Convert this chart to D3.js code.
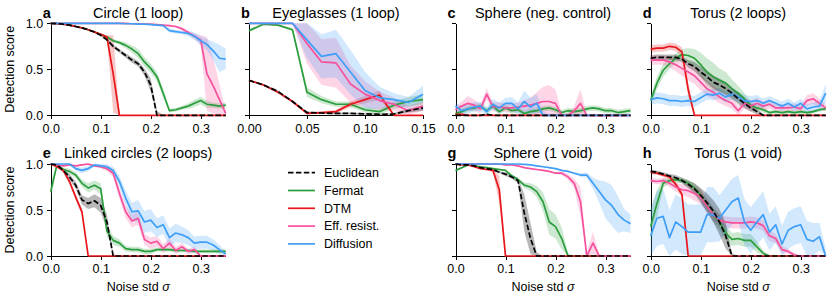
<!DOCTYPE html>
<meta charset="utf-8">
<style>
body { margin: 0; background: #fff; }
text { font-family: "Liberation Sans", Arial, sans-serif; fill: #000; }
.tick text { font-size: 12.5px; }
.title { font-size: 14.5px; text-anchor: middle; }
.letter { font-size: 14.5px; font-weight: bold; }
.axlabel { font-size: 12.5px; text-anchor: middle; }
.axis path, .axis line { stroke: #000; shape-rendering: crispEdges; }
.line { fill: none; stroke-width: 1.7px; stroke-linejoin: round; }
.band { stroke: none; }
.legend text { font-size: 12.5px; }
</style>
<svg width="830" height="302"></svg>
<script src="https://d3js.org/d3.v7.min.js"></script>
<script>

// noise levels sampled in the experiments
var sigmaWide = [0, 0.0125, 0.025, 0.0375, 0.05, 0.0625, 0.075, 0.0875, 0.1, 0.1125, 0.125, 0.1375, 0.15, 0.1625,
  0.175, 0.1875, 0.2, 0.2125, 0.225, 0.2375, 0.25, 0.2625, 0.275, 0.2875, 0.3, 0.3125, 0.325, 0.3375, 0.35];
var sigmaNarrow = [0, 0.0125, 0.025, 0.0375, 0.05, 0.0625, 0.075, 0.0875, 0.1, 0.1125, 0.125, 0.1375, 0.15];

var ticksWide = [0, 0.1, 0.2, 0.3];
var ticksNarrow = [0, 0.05, 0.1, 0.15];
var yTicks = [0, 0.5, 1];

var methodNames = ["Euclidean", "Fermat", "DTM", "Eff. resist.", "Diffusion"];

// a: Circle (1 loop)
var aEuclid = [1,0.997,0.99,0.98,0.965,0.95,0.93,0.905,0.87,0.82,0.75,0.70,0.65,0.60,0.56,0.47,0.33,0,0,0,0,0,0,0,0,0,0,0,0];
var aFermat = [1,0.997,0.99,0.98,0.965,0.95,0.93,0.905,0.88,0.85,0.81,0.79,0.76,0.72,0.67,0.58,0.51,0.42,0.24,0.05,0.06,0.08,0.10,0.13,0.16,0.12,0.11,0.10,0.11];
var aDtm = [1,0.997,0.99,0.98,0.965,0.95,0.93,0.905,0.88,0.85,0.45,0,0,0,0,0,0,0,0,0,0,0,0,0,0,0,0,0,0];
var aEff = [1,1,1,1,1,1,1,1,1,1,1,1,1,0.995,0.995,0.99,0.99,0.985,0.98,0.975,0.965,0.94,0.90,0.86,0.82,0.45,0.32,0.17,0.02];
var aDiff = [1,1,1,1,1,1,1,1,1,1,1,1,0.995,0.995,0.99,0.99,0.985,0.98,0.975,0.92,0.91,0.90,0.89,0.86,0.81,0.77,0.70,0.62,0.61];
var aEuclidSd = [0,0,0,0,0,0.005,0.005,0.01,0.01,0.015,0.02,0.02,0.025,0.03,0.03,0.04,0.07,0.05,0,0,0,0,0,0,0,0,0,0,0];
var aFermatSd = [0,0,0,0,0,0.005,0.005,0.01,0.01,0.015,0.02,0.02,0.03,0.04,0.05,0.05,0.05,0.05,0.05,0.02,0.02,0.02,0.03,0.04,0.04,0.04,0.03,0.03,0.03];
var aDtmSd = [0,0,0,0,0,0.005,0.005,0.01,0.01,0.02,0.42,0,0,0,0,0,0,0,0,0,0,0,0,0,0,0,0,0,0];
var aEffSd = [0,0,0,0,0,0,0,0,0,0,0,0,0,0,0,0,0,0,0,0.005,0.01,0.02,0.02,0.03,0.05,0.4,0.3,0.17,0.02];
var aDiffSd = [0,0,0,0,0,0,0,0,0,0,0,0,0,0,0,0,0,0,0.01,0.02,0.02,0.02,0.03,0.04,0.05,0.06,0.1,0.15,0.11];

// b: Eyeglasses (1 loop)
var bEuclid = [0.38,0.33,0.26,0.15,0.03,0.025,0.02,0.02,0.015,0.01,0.015,0.05,0.08];
var bFermat = [0.92,0.99,0.98,0.93,0.25,0.17,0.12,0.12,0.06,0.04,0.11,0.15,0.17];
var bDtm = [0.38,0.33,0.25,0.15,0.02,0.03,0.04,0.12,0.17,0.22,0,0,0];
var bEff = [1,1,1,1,0.78,0.58,0.57,0.34,0.23,0.16,0.12,0.05,0.10];
var bDiff = [1,1,1,1,0.82,0.64,0.67,0.47,0.27,0.19,0.17,0.14,0.23];
var bEuclidSd = [0.01,0.01,0.01,0.01,0.01,0.01,0.01,0.01,0.01,0.01,0.01,0.02,0.03];
var bFermatSd = [0.02,0.01,0.01,0.02,0.05,0.04,0.03,0.03,0.03,0.03,0.04,0.05,0.06];
var bDtmSd = [0.01,0.01,0.01,0.01,0.01,0.01,0.02,0.03,0.04,0.05,0,0,0];
var bEffSd = [0,0,0,0,0.22,0.25,0.27,0.2,0.14,0.1,0.07,0.05,0.05];
var bDiffSd = [0,0,0,0,0.2,0.24,0.26,0.24,0.2,0.12,0.07,0.06,0.09];

// c: Sphere (neg. control)
var cEuclid = [0,0,0,0,0,0.01,0,0,0,0,0,0,0,0,0,0,0,0,0,0,0,0,0,0,0,0,0,0,0];
var cFermat = [0.02,0.04,0.07,0.08,0.10,0.05,0.10,0.04,0.08,0.05,0.06,0.02,0.04,0.05,0.07,0.08,0.06,0.03,0.05,0.04,0.05,0.07,0.08,0.07,0.05,0.05,0.03,0.04,0.05];
var cDtm = [0.01,0.01,0,0,0,0,0,0,0,0,0,0,0,0,0,0,0,0,0,0,0,0,0,0,0,0,0,0,0];
var cEff = [0.06,0.10,0.13,0.11,0.07,0.23,0.09,0.09,0.08,0.08,0.09,0.10,0.11,0.13,0.15,0.15,0.13,0,0,0.05,0.13,0,0,0,0,0,0,0,0];
var cDiff = [0.10,0.05,0.07,0.09,0.10,0.04,0.12,0.08,0.13,0.13,0.07,0.15,0.09,0.13,0,0,0,0,0,0,0,0,0,0,0,0,0,0,0];
var cEuclidSd = [0,0,0,0,0,0.01,0,0,0,0,0,0,0,0,0,0,0,0,0,0,0,0,0,0,0,0,0,0,0];
var cFermatSd = [0.02,0.03,0.03,0.03,0.03,0.03,0.03,0.03,0.03,0.03,0.03,0.03,0.03,0.03,0.03,0.03,0.03,0.03,0.03,0.03,0.03,0.03,0.03,0.03,0.03,0.03,0.03,0.03,0.03];
var cDtmSd = [0.01,0.01,0,0,0,0,0,0,0,0,0,0,0,0,0,0,0,0,0,0,0,0,0,0,0,0,0,0,0];
var cEffSd = [0.03,0.05,0.08,0.06,0.05,0.06,0.05,0.05,0.05,0.05,0.05,0.06,0.08,0.12,0.16,0.18,0.15,0.02,0.02,0.05,0.15,0.02,0,0,0,0,0,0,0];
var cDiffSd = [0.04,0.05,0.05,0.05,0.05,0.05,0.06,0.06,0.06,0.07,0.07,0.12,0.1,0.1,0.05,0,0,0,0,0,0,0,0,0,0,0,0,0,0];

// d: Torus (2 loops)
var dEuclid = [0.62,0.63,0.63,0.63,0.63,0.61,0.56,0.53,0.47,0.42,0.36,0.33,0.29,0.24,0.18,0.13,0.08,0.04,0,0,0,0,0,0,0,0,0,0,0];
var dFermat = [0.16,0.35,0.49,0.56,0.62,0.66,0.65,0.62,0.55,0.47,0.42,0.38,0.35,0.29,0.24,0.18,0.11,0.08,0.06,0.03,0.04,0.03,0.04,0.03,0.04,0.03,0.04,0.06,0.07];
var dDtm = [0.72,0.73,0.73,0.75,0.74,0.69,0.28,0,0,0,0,0,0,0,0,0,0,0,0,0,0,0,0,0,0,0,0,0,0];
var dEff = [0.60,0.60,0.60,0.58,0.55,0.51,0.47,0.43,0.36,0.29,0.25,0.20,0.16,0.13,0.05,0.13,0.10,0.13,0.10,0.12,0.08,0.08,0.08,0.09,0.07,0.16,0.18,0.13,0.08];
var dDiff = [0.17,0.19,0.18,0.16,0.16,0.15,0.16,0.15,0.19,0.23,0.22,0.24,0.20,0.23,0.20,0.16,0.15,0.16,0.13,0.16,0.13,0.10,0.13,0.09,0.13,0.07,0.09,0.10,0.24];
var dEuclidSd = [0.03,0.03,0.03,0.03,0.03,0.03,0.04,0.05,0.06,0.07,0.07,0.07,0.07,0.06,0.06,0.05,0.04,0.03,0.01,0,0,0,0,0,0,0,0,0,0];
var dFermatSd = [0.05,0.07,0.07,0.06,0.05,0.06,0.08,0.1,0.13,0.15,0.15,0.13,0.12,0.1,0.08,0.06,0.04,0.03,0.03,0.02,0.02,0.02,0.02,0.02,0.02,0.02,0.02,0.02,0.02];
var dDtmSd = [0.04,0.04,0.04,0.04,0.04,0.05,0.08,0,0,0,0,0,0,0,0,0,0,0,0,0,0,0,0,0,0,0,0,0,0];
var dEffSd = [0.05,0.05,0.05,0.06,0.07,0.08,0.09,0.09,0.09,0.08,0.07,0.07,0.06,0.06,0.05,0.06,0.06,0.06,0.05,0.05,0.04,0.04,0.04,0.04,0.04,0.06,0.06,0.05,0.04];
var dDiffSd = [0.06,0.06,0.06,0.06,0.06,0.06,0.06,0.06,0.06,0.06,0.06,0.06,0.06,0.06,0.06,0.06,0.06,0.06,0.05,0.05,0.05,0.05,0.05,0.05,0.05,0.05,0.05,0.06,0.1];

// e: Linked circles (2 loops)
var eEuclid = [1,0.99,0.93,0.86,0.77,0.61,0.57,0.60,0.55,0.37,0,0,0,0,0,0,0,0,0,0,0,0,0,0,0,0,0,0,0];
var eFermat = [0.70,0.99,0.94,0.92,0.88,0.79,0.74,0.77,0.73,0.27,0.17,0.14,0.08,0.07,0.07,0.05,0.05,0.07,0.07,0.07,0.06,0.06,0.06,0.05,0.05,0.05,0.05,0.05,0.05];
var eDtm = [1,0.97,0.93,0.81,0.64,0.48,0,0,0,0,0,0,0,0,0,0,0,0,0,0,0,0,0,0,0,0,0,0,0];
var eEff = [1,0.99,0.98,0.99,0.98,0.99,1,0.98,0.97,0.95,0.90,0.68,0.48,0.38,0.41,0.18,0.14,0.16,0.08,0.14,0.06,0.10,0.05,0.07,0,0,0,0,0];
var eDiff = [1,1,1,1,0.95,0.93,0.95,0.99,0.98,0.97,0.93,0.81,0.63,0.48,0.49,0.37,0.39,0.31,0.34,0.20,0.25,0.23,0.20,0.14,0.15,0.15,0.12,0.07,0.02];
var eEuclidSd = [0,0.01,0.02,0.03,0.04,0.05,0.06,0.07,0.08,0.08,0.02,0,0,0,0,0,0,0,0,0,0,0,0,0,0,0,0,0,0];
var eFermatSd = [0.1,0.01,0.02,0.03,0.03,0.04,0.05,0.05,0.06,0.06,0.05,0.04,0.03,0.03,0.03,0.03,0.03,0.02,0.02,0.02,0.02,0.02,0.02,0.02,0.02,0.02,0.02,0.02,0.02];
var eDtmSd = [0,0.01,0.02,0.03,0.03,0.04,0,0,0,0,0,0,0,0,0,0,0,0,0,0,0,0,0,0,0,0,0,0,0];
var eEffSd = [0,0,0.01,0.01,0.01,0.01,0.01,0.01,0.02,0.03,0.04,0.06,0.07,0.07,0.07,0.06,0.06,0.06,0.05,0.05,0.04,0.04,0.03,0.03,0.01,0,0,0,0];
var eDiffSd = [0,0,0,0,0.03,0.03,0.03,0.02,0.02,0.03,0.04,0.06,0.08,0.1,0.12,0.12,0.12,0.1,0.1,0.1,0.1,0.09,0.08,0.07,0.07,0.07,0.06,0.05,0.03];

// g: Sphere (1 void)
var gEuclid = [1,0.99,0.99,0.98,0.96,0.95,0.94,0.91,0.89,0.86,0.82,0.47,0.19,0,0,0,0,0,0,0,0,0,0,0,0,0,0,0,0];
var gFermat = [0.93,0.96,0.99,0.98,0.97,0.96,0.95,0.94,0.93,0.87,0.83,0.77,0.75,0.70,0.59,0.37,0.32,0.19,0,0,0,0,0,0,0,0,0,0,0];
var gDtm = [1,0.99,0.99,0.97,0.95,0.94,0.93,0.72,0,0,0,0,0,0,0,0,0,0,0,0,0,0,0,0,0,0,0,0,0];
var gEff = [1,1,1,1,1,1,1,1,0.99,0.99,0.98,0.96,0.95,0.94,0.93,0.92,0.90,0.90,0.86,0.79,0.59,0,0.14,0,0,0,0,0,0];
var gDiff = [1,1,1,1,1,1,1,1,1,1,1,0.995,0.99,0.98,0.97,0.96,0.95,0.93,0.92,0.90,0.88,0.88,0.79,0.70,0.61,0.55,0.45,0.39,0.35];
var gEuclidSd = [0,0,0,0,0,0,0.01,0.01,0.02,0.02,0.03,0.2,0.17,0.04,0,0,0,0,0,0,0,0,0,0,0,0,0,0,0];
var gFermatSd = [0.02,0.01,0,0,0,0,0.01,0.01,0.01,0.02,0.02,0.03,0.04,0.06,0.1,0.14,0.13,0.12,0.03,0,0,0,0,0,0,0,0,0,0];
var gDtmSd = [0,0,0,0,0.01,0.01,0.02,0.15,0,0,0,0,0,0,0,0,0,0,0,0,0,0,0,0,0,0,0,0,0];
var gEffSd = [0,0,0,0,0,0,0,0,0,0,0,0,0,0,0,0,0.01,0.02,0.03,0.05,0.16,0.04,0.12,0.02,0,0,0,0,0];
var gDiffSd = [0,0,0,0,0,0,0,0,0,0,0,0,0,0,0,0,0,0,0,0.01,0.02,0.03,0.06,0.12,0.2,0.22,0.2,0.12,0.1];

// h: Torus (1 void)
var hEuclid = [0.92,0.91,0.89,0.87,0.85,0.82,0.78,0.73,0.66,0.58,0.49,0.37,0.22,0,0,0,0,0,0,0,0,0,0,0,0,0,0,0,0];
var hFermat = [0.32,0.57,0.79,0.82,0.83,0.82,0.79,0.74,0.66,0.55,0.45,0.37,0.25,0.18,0.19,0.17,0.17,0.10,0.03,0,0,0,0,0,0,0,0,0,0];
var hDtm = [0.91,0.90,0.88,0.86,0.78,0.67,0,0,0,0,0,0,0,0,0,0,0,0,0,0,0,0,0,0,0,0,0,0,0];
var hEff = [0.82,0.81,0.82,0.79,0.75,0.72,0.71,0.68,0.64,0.54,0.45,0.39,0.37,0.36,0.36,0.36,0.37,0.36,0.33,0.22,0.19,0.07,0.05,0.01,0,0,0,0,0];
var hDiff = [0.22,0.41,0.43,0.20,0.37,0.32,0.26,0.26,0.26,0.45,0.45,0.41,0.50,0.59,0.63,0.37,0.28,0.37,0.45,0.26,0.34,0.13,0.28,0.32,0.34,0.18,0.16,0.21,0];
var hEuclidSd = [0.02,0.02,0.02,0.02,0.03,0.03,0.04,0.06,0.08,0.1,0.12,0.14,0.14,0.03,0,0,0,0,0,0,0,0,0,0,0,0,0,0,0];
var hFermatSd = [0.18,0.15,0.05,0.03,0.03,0.03,0.04,0.05,0.06,0.07,0.08,0.08,0.08,0.07,0.07,0.07,0.07,0.06,0.03,0,0,0,0,0,0,0,0,0,0];
var hDtmSd = [0.02,0.02,0.02,0.02,0.03,0.04,0,0,0,0,0,0,0,0,0,0,0,0,0,0,0,0,0,0,0,0,0,0,0];
var hEffSd = [0.03,0.03,0.03,0.04,0.05,0.06,0.07,0.08,0.08,0.08,0.07,0.06,0.06,0.06,0.06,0.06,0.06,0.06,0.06,0.06,0.05,0.04,0.03,0.02,0,0,0,0,0];
var hDiffSd = [0.3,0.3,0.3,0.3,0.3,0.3,0.3,0.3,0.3,0.3,0.3,0.25,0.25,0.25,0.25,0.25,0.25,0.25,0.25,0.2,0.2,0.2,0.2,0.2,0.2,0.2,0.2,0.15,0.08];

// styling per method (order: Euclidean, Fermat, DTM, Eff. resist., Diffusion)
var methodColors = ["#000000", "#2a9d3c", "#e8161b", "#f7509c", "#3f9ef7"];
var methodDash = ["5.5,2.4", null, null, null, null];
var bandOpacity = [0.28, 0.24, 0.24, 0.24, 0.24];
var drawOrder = [1, 2, 3, 4, 0];

var panels = [
  {letter: "a", title: "Circle (1 loop)", col: 0, row: 0, sigma: sigmaWide, xmax: 0.35, ticks: ticksWide, fmt: ".1f",
   vals: [aEuclid, aFermat, aDtm, aEff, aDiff], sds: [aEuclidSd, aFermatSd, aDtmSd, aEffSd, aDiffSd]},
  {letter: "b", title: "Eyeglasses (1 loop)", col: 1, row: 0, sigma: sigmaNarrow, xmax: 0.15, ticks: ticksNarrow, fmt: ".2f",
   vals: [bEuclid, bFermat, bDtm, bEff, bDiff], sds: [bEuclidSd, bFermatSd, bDtmSd, bEffSd, bDiffSd]},
  {letter: "c", title: "Sphere (neg. control)", col: 2, row: 0, sigma: sigmaWide, xmax: 0.35, ticks: ticksWide, fmt: ".1f",
   vals: [cEuclid, cFermat, cDtm, cEff, cDiff], sds: [cEuclidSd, cFermatSd, cDtmSd, cEffSd, cDiffSd]},
  {letter: "d", title: "Torus (2 loops)", col: 3, row: 0, sigma: sigmaWide, xmax: 0.35, ticks: ticksWide, fmt: ".1f",
   vals: [dEuclid, dFermat, dDtm, dEff, dDiff], sds: [dEuclidSd, dFermatSd, dDtmSd, dEffSd, dDiffSd]},
  {letter: "e", title: "Linked circles (2 loops)", col: 0, row: 1, sigma: sigmaWide, xmax: 0.35, ticks: ticksWide, fmt: ".1f",
   vals: [eEuclid, eFermat, eDtm, eEff, eDiff], sds: [eEuclidSd, eFermatSd, eDtmSd, eEffSd, eDiffSd]},
  {letter: "g", title: "Sphere (1 void)", col: 2, row: 1, sigma: sigmaWide, xmax: 0.35, ticks: ticksWide, fmt: ".1f",
   vals: [gEuclid, gFermat, gDtm, gEff, gDiff], sds: [gEuclidSd, gFermatSd, gDtmSd, gEffSd, gDiffSd]},
  {letter: "h", title: "Torus (1 void)", col: 3, row: 1, sigma: sigmaWide, xmax: 0.35, ticks: ticksWide, fmt: ".1f",
   vals: [hEuclid, hFermat, hDtm, hEff, hDiff], sds: [hEuclidSd, hFermatSd, hDtmSd, hEffSd, hDiffSd]}
];

var svg = d3.select("svg");

var colLeft = [50.7, 249, 455.5, 650.7],
    colWidth = [175, 174, 175, 175],
    rowTop = [23.3, 164],
    plotHeight = 92,
    titleY = [17.5, 158];

panels.forEach(function(p) {
  var w = colWidth[p.col];
  var x = d3.scaleLinear().domain([0, p.xmax]).range([0, w]);
  var y = d3.scaleLinear().domain([0, 1]).range([plotHeight, 0]);

  var g = svg.append("g")
      .attr("transform", "translate(" + colLeft[p.col] + "," + rowTop[p.row] + ")");

  g.append("g")
      .attr("class", "axis")
      .attr("transform", "translate(0," + plotHeight + ")")
      .call(d3.axisBottom(x).tickValues(p.ticks).tickFormat(d3.format(p.fmt))
        .tickSize(4).tickSizeOuter(0).tickPadding(4.5));

  var yAxis = d3.axisLeft(y).tickValues(yTicks).tickSize(4).tickSizeOuter(0).tickPadding(3.5);
  yAxis.tickFormat(p.col === 0 ? d3.format(".1f") : function() { return ""; });
  g.append("g").attr("class", "axis").call(yAxis);
  g.selectAll(".axis text").attr("font-family", null);

  // bands first, then lines on top
  drawOrder.forEach(function(m) {
    var pts = p.sigma.map(function(s, i) {
      return {s: s, v: p.vals[m][i], sd: p.sds[m][i]};
    });
    g.append("path")
        .attr("class", "band")
        .attr("fill", methodColors[m])
        .attr("fill-opacity", bandOpacity[m])
        .attr("d", d3.area()
          .x(function(d) { return x(d.s); })
          .y0(function(d) { return y(Math.max(0, d.v - d.sd)); })
          .y1(function(d) { return y(Math.min(1, d.v + d.sd)); })(pts));
  });

  drawOrder.forEach(function(m) {
    var pts = p.sigma.map(function(s, i) { return {s: s, v: p.vals[m][i]}; });
    g.append("path")
        .attr("class", "line")
        .attr("stroke", methodColors[m])
        .attr("stroke-dasharray", methodDash[m])
        .attr("d", d3.line()
          .x(function(d) { return x(d.s); })
          .y(function(d) { return y(d.v); })(pts));
  });

  svg.append("text")
      .attr("class", "title")
      .attr("x", colLeft[p.col] + w / 2)
      .attr("y", titleY[p.row])
      .text(p.title);

  svg.append("text")
      .attr("class", "letter")
      .attr("x", colLeft[p.col] - 8)
      .attr("y", titleY[p.row])
      .text(p.letter);

  if (p.col === 0) {
    svg.append("text")
        .attr("class", "axlabel")
        .attr("transform", "translate(14," + (rowTop[p.row] + plotHeight / 2) + ") rotate(-90)")
        .text("Detection score");
  }
  if (p.row === 1) {
    var xl = svg.append("text")
        .attr("class", "axlabel")
        .attr("x", colLeft[p.col] + w / 2)
        .attr("y", 290.5);
    xl.append("tspan").text("Noise std ");
    xl.append("tspan").attr("font-style", "italic").text("σ");
  }
});

// legend in the empty slot (f)
var legend = svg.append("g").attr("class", "legend");
methodNames.forEach(function(name, i) {
  var ly = 172.7 + i * 17.8;
  legend.append("line")
      .attr("x1", 288).attr("x2", 315)
      .attr("y1", ly).attr("y2", ly)
      .attr("stroke", methodColors[i])
      .attr("stroke-width", 1.7)
      .attr("stroke-dasharray", methodDash[i]);
  legend.append("text")
      .attr("x", 324)
      .attr("y", ly)
      .attr("dy", "0.35em")
      .text(name);
});

</script>
